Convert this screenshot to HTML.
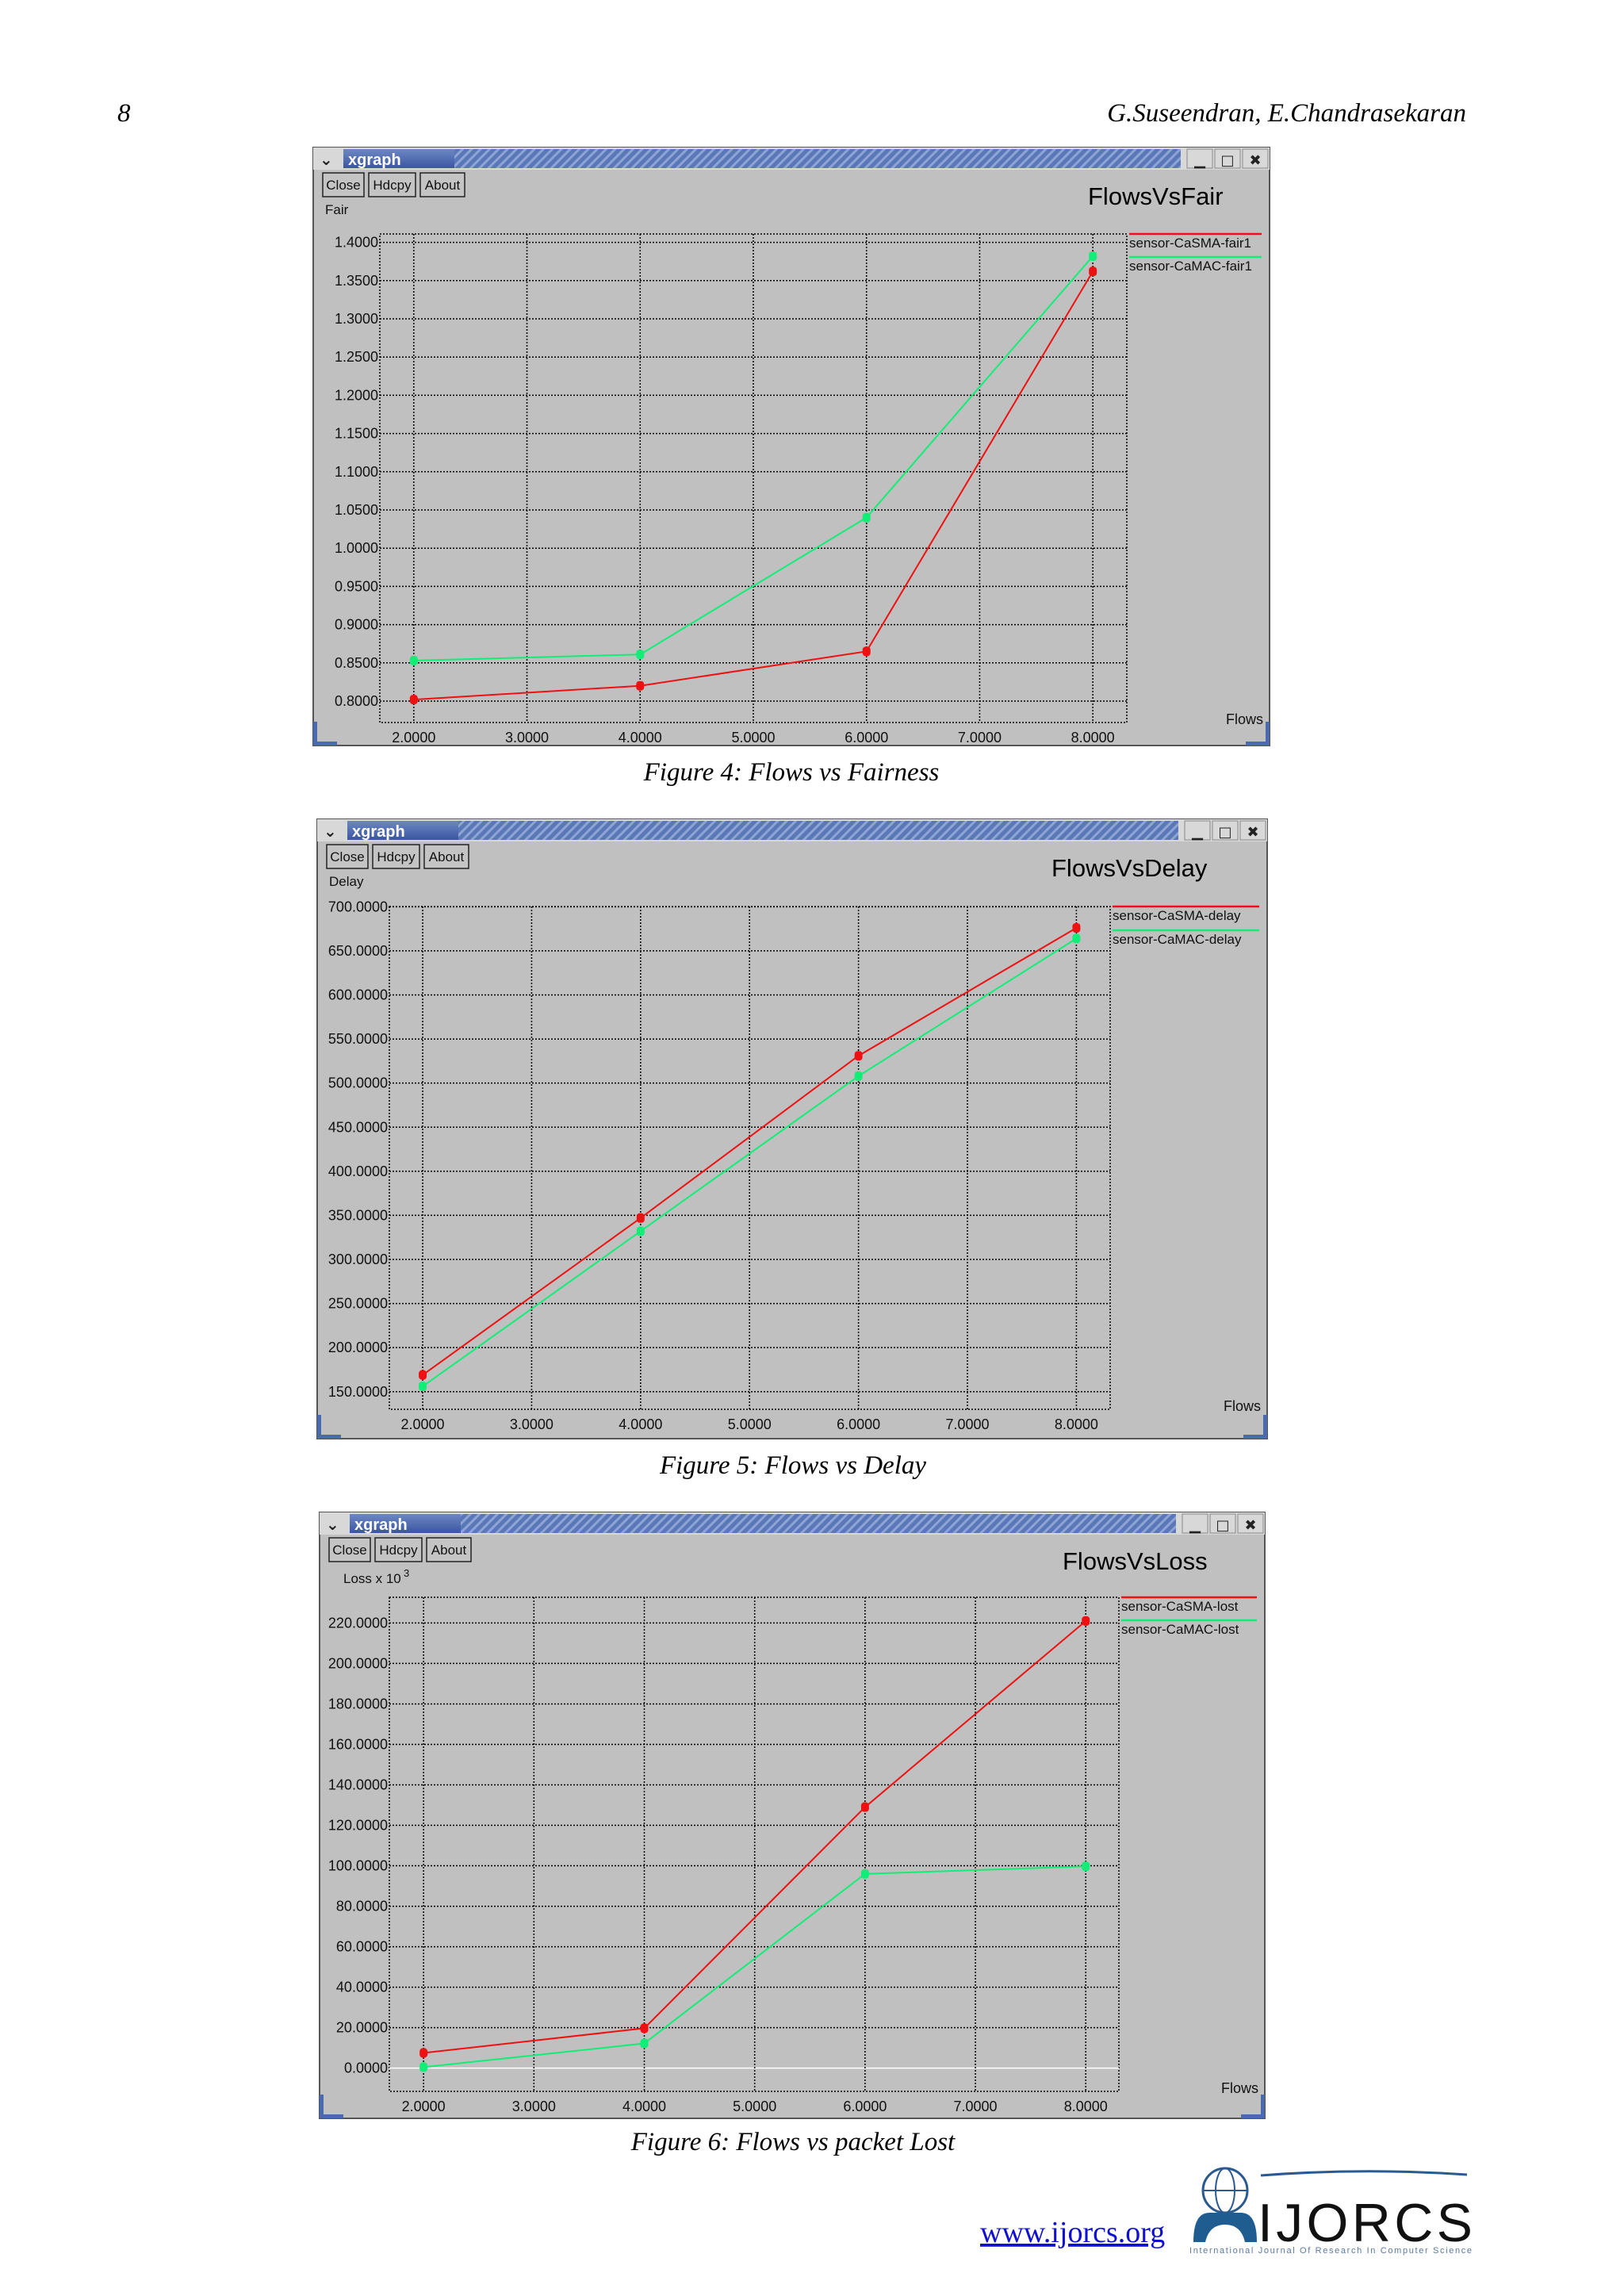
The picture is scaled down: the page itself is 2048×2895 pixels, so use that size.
<!DOCTYPE html>
<html><head><meta charset="utf-8">
<style>
html,body{margin:0;padding:0;background:#fff;}
body{width:2048px;height:2895px;position:relative;overflow:hidden;}
svg{position:absolute;left:0;top:0;}
.serif{font-family:"Liberation Serif",serif;font-style:italic;}
.narrow{font-family:"Liberation Sans Narrow","Liberation Sans",sans-serif;}
</style></head>
<body>
<svg id="page" width="2048" height="2895" viewBox="0 0 2048 2895" xmlns="http://www.w3.org/2000/svg">
<defs>
<pattern id="hatch" width="8" height="8" patternUnits="userSpaceOnUse" patternTransform="rotate(45)">
<rect width="8" height="8" fill="#5a78b8"/>
<rect width="3" height="8" fill="#8ea4d4"/>
</pattern>
<linearGradient id="tbar" x1="0" y1="0" x2="0" y2="1">
<stop offset="0" stop-color="#6d87c4"/><stop offset="1" stop-color="#3b56a0"/>
</linearGradient>
</defs>
<text x="148" y="153" class="serif" font-size="33">8</text>
<text x="1849" y="153" text-anchor="end" class="serif" font-size="33">G.Suseendran, E.Chandrasekaran</text>
<text x="998" y="984" text-anchor="middle" class="serif" font-size="33">Figure 4: Flows vs Fairness</text>
<text x="1000" y="1858" text-anchor="middle" class="serif" font-size="33">Figure 5: Flows vs Delay</text>
<text x="1000" y="2711" text-anchor="middle" class="serif" font-size="33">Figure 6: Flows vs packet Lost</text>
<text x="1236" y="2827" font-family="Liberation Serif,serif" font-size="38" fill="#1010d0" text-decoration="underline">www.ijorcs.org</text>
<g>
<circle cx="1545" cy="2762" r="28" fill="none" stroke="#2a5a90" stroke-width="3"/>
<ellipse cx="1545" cy="2762" rx="12" ry="28" fill="none" stroke="#2a5a90" stroke-width="2"/>
<line x1="1517" y1="2762" x2="1573" y2="2762" stroke="#2a5a90" stroke-width="2"/>
<path d="M1505 2827 Q1505 2790 1525 2790 L1565 2790 Q1585 2790 1585 2827 L1570 2827 Q1565 2805 1545 2805 Q1525 2805 1520 2827 Z" fill="#1f5c90"/>
<path d="M1590 2743 Q1720 2733 1850 2742" fill="none" stroke="#2a5a90" stroke-width="3"/>
<text x="1586" y="2826" font-family="Liberation Sans,sans-serif" font-size="68" fill="#111" textLength="271">IJORCS</text>
<text x="1500" y="2841" font-family="Liberation Sans,sans-serif" font-size="11" fill="#5a7aa0" textLength="356">International Journal Of Research In Computer Science</text>
</g>
<g id="charts"></g>
</svg>
<script>
// ---- Chart 1 data: Flows vs Fair ----
const fairFlows = [2, 4, 6, 8];
const fairCaSMA = [0.802, 0.820, 0.865, 1.362];
const fairCaMAC = [0.853, 0.861, 1.040, 1.382];
const fairYTicks = [0.80,0.85,0.90,0.95,1.00,1.05,1.10,1.15,1.20,1.25,1.30,1.35,1.40];
// ---- Chart 2 data: Flows vs Delay ----
const delayFlows = [2, 4, 6, 8];
const delayCaSMA = [169, 347, 531, 676];
const delayCaMAC = [156, 332, 508, 664];
const delayYTicks = [150,200,250,300,350,400,450,500,550,600,650,700];
// ---- Chart 3 data: Flows vs Loss ----
const lossFlows = [2, 4, 6, 8];
const lossCaSMA = [7.5, 19.7, 129, 221];
const lossCaMAC = [0.5, 12.2, 96, 99.7];
const lossYTicks = [0,20,40,60,80,100,120,140,160,180,200,220];
const xTicks = [2,3,4,5,6,7,8];

const NS = 'http://www.w3.org/2000/svg';
const root = document.getElementById('charts');
function mk(tag, attrs, parent, txt){
  const e = document.createElementNS(NS, tag);
  for (const k in attrs) e.setAttribute(k, attrs[k]);
  if (txt !== undefined) e.textContent = txt;
  parent.appendChild(e);
  return e;
}
function drawChart(c){
  const g = mk('g', {}, root);
  
  
  const W = c.win;
  mk('rect', {x:W.x, y:W.y, width:W.w, height:W.h, fill:'#c0c0c0', stroke:'#555', 'stroke-width':2}, g);
  mk('rect', {x:W.x, y:W.y, width:W.w, height:28, fill:'#d8d8d8'}, g);
  mk('rect', {x:W.x+38, y:W.y+2, width:W.w-150, height:24, fill:'url(#hatch)'}, g);
  mk('rect', {x:W.x+38, y:W.y+2, width:140, height:24, fill:'url(#tbar)'}, g);
  const tt = mk('text', {x:W.x+44, y:W.y+22, 'font-family':'Liberation Sans,sans-serif', 'font-weight':'bold', 'font-size':20, fill:'#fff'}, g, 'xgraph');
  
  
  const menu = mk('text', {x:W.x+8, y:W.y+22, 'font-family':'DejaVu Sans,sans-serif', 'font-weight':'bold', 'font-size':20, fill:'#222'}, g, '\u2304');
  
  
  const ctrl = [['minimize-button','\u2581'],['maximize-button','\u25A1'],['close-window-button','\u2716']];
  ctrl.forEach((cc, i) => {
    const bx = W.x + W.w - 104 + i*35;
    const b = mk('g', {}, g);
    
    
    mk('rect', {x:bx, y:W.y+2, width:32, height:24, fill:'#d8d8d8', stroke:'#888'}, b);
    mk('text', {x:bx+16, y:W.y+22, 'text-anchor':'middle', 'font-family':'DejaVu Sans,sans-serif', 'font-weight':'bold', 'font-size':18, fill:'#222'}, b, cc[1]);
  });
  const btns = [['close-button','Close',0,52],['hardcopy-button','Hdcpy',58,59],['about-button','About',123,56]];
  btns.forEach(b => {
    const bg = mk('g', {}, g);
    
    
    mk('rect', {x:W.x+12+b[2], y:W.y+32, width:b[3], height:30, fill:'#c4c4c4', stroke:'#222', 'stroke-width':1.5}, bg);
    mk('text', {x:W.x+12+b[2]+b[3]/2, y:W.y+53, 'text-anchor':'middle', class:'narrow', 'font-size':17, fill:'#111'}, bg, b[1]);
  });
  const title = mk('text', {x:c.titleX, y:W.y+72, class:'narrow', 'font-size':31, fill:'#000'}, g, c.title);
  
  
  const yl = mk('text', {x:c.ylabX, y:W.y+c.ylabDy, class:'narrow', 'font-size':17, fill:'#111'}, g, c.ylab);
  
  
  if (c.sup) {
    const s = mk('text', {x:c.ylabX+76, y:W.y+c.ylabDy-8, class:'narrow', 'font-size':13, fill:'#111'}, g, '3');
    
    
  }
  const P = c.plot;
  const sx = v => P.x + (v - c.xmin)/(c.xmax - c.xmin)*P.w;
  const sy = v => P.y + P.h - (v - c.ymin)/(c.ymax - c.ymin)*P.h;
  const dash = {stroke:'#000', 'stroke-width':1.5, 'stroke-dasharray':'2,2', fill:'none'};
  mk('rect', Object.assign({x:P.x, y:P.y, width:P.w, height:P.h}, dash), g);
  c.yTicks.forEach(t => {
    const y = sy(t);
    const isZero = (t === 0);
    const ln = mk('line', Object.assign({x1:P.x, x2:P.x+P.w, y1:y, y2:y}, dash), g);
    if (isZero) { ln.setAttribute('stroke', '#fff'); ln.setAttribute('stroke-dasharray', 'none'); }
    
    
    const lab = mk('text', {x:P.x-2, y:y+6, 'text-anchor':'end', class:'narrow', 'font-size':18, fill:'#111'}, g, t.toFixed(4));
    
    
  });
  xTicks.forEach(t => {
    const x = sx(t);
    const ln = mk('line', Object.assign({x1:x, x2:x, y1:P.y, y2:P.y+P.h}, dash), g);
    
    
    const lab = mk('text', {x:x, y:P.y+P.h+25, 'text-anchor':'middle', class:'narrow', 'font-size':18, fill:'#111'}, g, t.toFixed(4));
    
    
  });
  const fl = mk('text', {x:W.x+W.w-8, y:P.y+P.h+2, 'text-anchor':'end', class:'narrow', 'font-size':18, fill:'#111'}, g, 'Flows');
  
  
  c.series.forEach((s, i) => {
    const sg = mk('g', {}, g);
    
    
    const pts = c.xs.map((xv, j) => sx(xv) + ',' + sy(s.vals[j])).join(' ');
    const pl = mk('polyline', {points:pts, fill:'none', stroke:s.color, 'stroke-width':2}, sg);
    
    
    c.xs.forEach((xv, j) => {
      const pt = mk('rect', {x:sx(xv)-5, y:sy(s.vals[j])-6, width:10, height:12, rx:4, fill:s.color}, sg);
      
      
    });
    const lx = P.x + P.w + 3, ly = P.y + i*c.legGap;
    const lg = mk('g', {}, g);
    
    
    mk('line', {x1:lx, x2:W.x+W.w-10, y1:ly, y2:ly, stroke:s.color, 'stroke-width':2.5}, lg);
    mk('text', {x:lx, y:ly+17, class:'narrow', 'font-size':17, fill:'#111'}, lg, s.name);
  });
  mk('rect', {x:W.x, y:W.y+W.h-30, width:5, height:30, fill:'#4a6ab0'}, g);
  mk('rect', {x:W.x, y:W.y+W.h-5, width:30, height:5, fill:'#4a6ab0'}, g);
  mk('rect', {x:W.x+W.w-5, y:W.y+W.h-30, width:5, height:30, fill:'#4a6ab0'}, g);
  mk('rect', {x:W.x+W.w-30, y:W.y+W.h-5, width:30, height:5, fill:'#4a6ab0'}, g);
}

drawChart({key:'fair', win:{x:395,y:186,w:1206,h:754}, plot:{x:479,y:295,w:942,h:616},
  xmin:1.70, xmax:8.30, ymin:0.772, ymax:1.411, yTicks:fairYTicks, xs:fairFlows,
  title:'FlowsVsFair', titleX:1372, ylab:'Fair', ylabX:410, ylabDy:84, legGap:29,
  series:[{name:'sensor-CaSMA-fair1', vals:fairCaSMA, color:'#ee1111'},
          {name:'sensor-CaMAC-fair1', vals:fairCaMAC, color:'#11ee77'}]});
drawChart({key:'delay', win:{x:400,y:1033,w:1198,h:781}, plot:{x:491,y:1143,w:909,h:634},
  xmin:1.694, xmax:8.31, ymin:130, ymax:700.3, yTicks:delayYTicks, xs:delayFlows,
  title:'FlowsVsDelay', titleX:1326, ylab:'Delay', ylabX:415, ylabDy:84, legGap:30,
  series:[{name:'sensor-CaSMA-delay', vals:delayCaSMA, color:'#ee1111'},
          {name:'sensor-CaMAC-delay', vals:delayCaMAC, color:'#11ee77'}]});
drawChart({key:'loss', win:{x:403,y:1907,w:1192,h:764}, plot:{x:491,y:2014,w:920,h:623},
  xmin:1.69, xmax:8.30, ymin:-11.5, ymax:232.7, yTicks:lossYTicks, xs:lossFlows,
  title:'FlowsVsLoss', titleX:1340, ylab:'Loss x 10', ylabX:433, ylabDy:89, sup:true, legGap:29,
  series:[{name:'sensor-CaSMA-lost', vals:lossCaSMA, color:'#ee1111'},
          {name:'sensor-CaMAC-lost', vals:lossCaMAC, color:'#11ee77'}]});
</script>
</body></html>
